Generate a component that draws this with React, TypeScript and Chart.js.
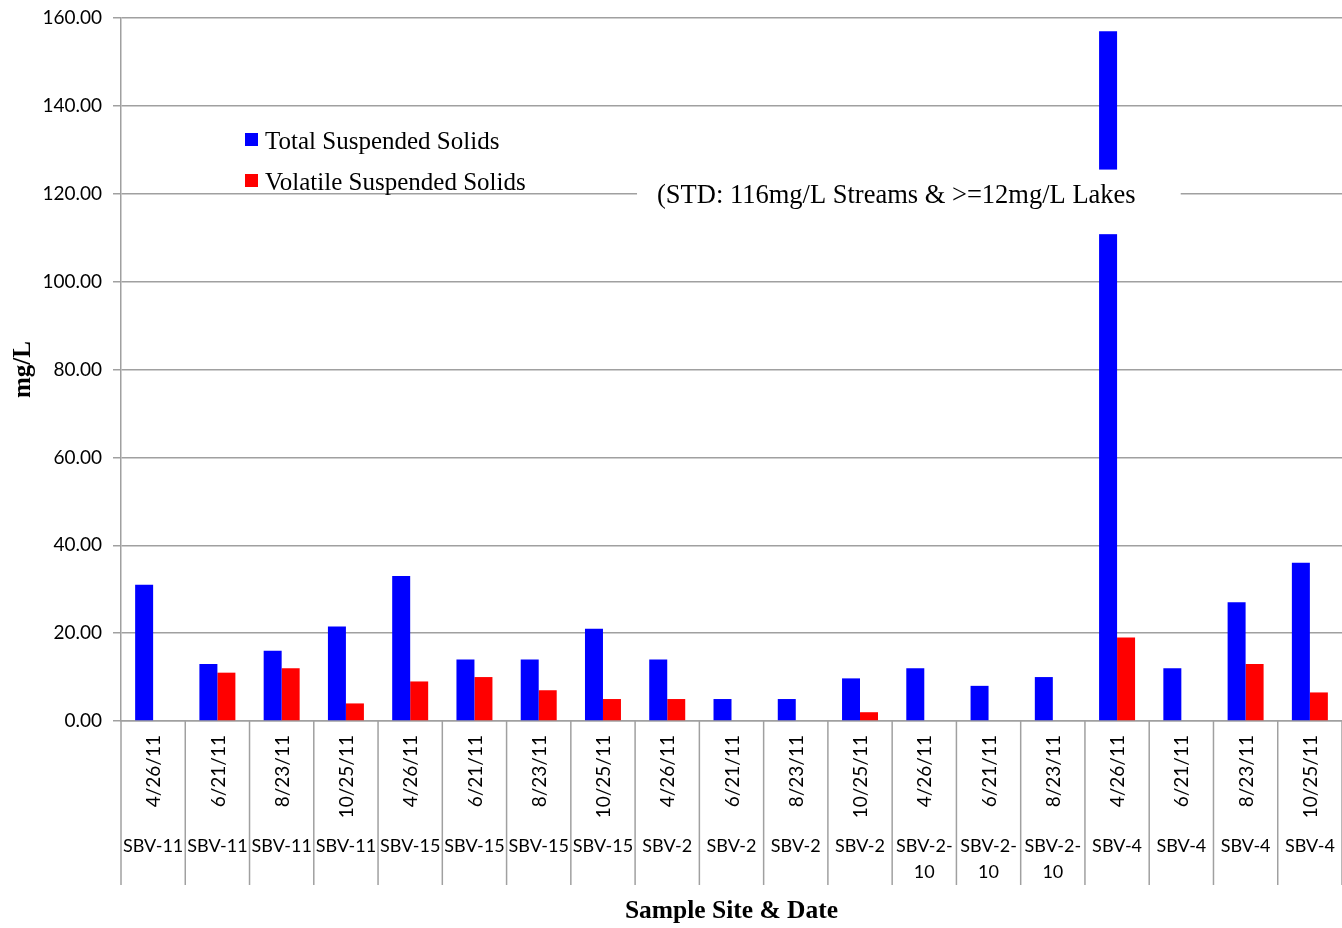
import React, { useEffect, useRef } from "react";
import { Chart, registerables } from "chart.js";

Chart.register(...registerables);

const dates = [
  "4/26/11", "6/21/11", "8/23/11", "10/25/11",
  "4/26/11", "6/21/11", "8/23/11", "10/25/11",
  "4/26/11", "6/21/11", "8/23/11", "10/25/11",
  "4/26/11", "6/21/11", "8/23/11",
  "4/26/11", "6/21/11", "8/23/11", "10/25/11",
];
const sites = [
  "SBV-11", "SBV-11", "SBV-11", "SBV-11",
  "SBV-15", "SBV-15", "SBV-15", "SBV-15",
  "SBV-2", "SBV-2", "SBV-2", "SBV-2",
  "SBV-2-10", "SBV-2-10", "SBV-2-10",
  "SBV-4", "SBV-4", "SBV-4", "SBV-4",
];
const tss = [31, 13, 16, 21.5, 33, 14, 14, 21, 14, 5, 5, 9.7, 12, 8, 10, 157, 12, 27, 36];
const vss = [null, 11, 12, 4, 9, 10, 7, 5, 5, null, null, 2, null, null, null, 19, null, 13, 6.5];
const seriesNames = ["Total Suspended Solids", "Volatile Suspended Solids"];
const seriesColors = ["#0000FF", "#FF0000"];
const stdNote = "(STD: 116mg/L Streams & >=12mg/L Lakes";
const yTitle = "mg/L";
const xTitle = "Sample Site & Date";

const GRID = "#a0a0a0";
const SERIF = "'Liberation Serif', 'Times New Roman', serif";

const overlayPlugin = {
  id: "overlay",
  afterDatasetsDraw(chart: any) {
    const ctx = chart.ctx;
    const y = chart.scales.y;
    const x = chart.scales.x;
    // white text box of the standard note, covering the grid and bar
    const boxTop = y.getPixelForValue(125.5);
    const boxBottom = y.getPixelForValue(110.8);
    const boxLeft = x.getPixelForValue(7.53);
    const boxRight = x.getPixelForValue(15.99);
    ctx.save();
    ctx.fillStyle = "#ffffff";
    ctx.fillRect(boxLeft, boxTop, boxRight - boxLeft, boxBottom - boxTop);
    ctx.fillStyle = "#000";
    ctx.font = `26.5px ${SERIF}`;
    ctx.textAlign = "left";
    ctx.textBaseline = "alphabetic";
    ctx.fillText(stdNote, boxLeft + 20, y.getPixelForValue(120) + 9);
    ctx.restore();
  },
  afterDraw(chart: any) {
    const ctx = chart.ctx;
    const x = chart.scales.x;
    const area = chart.chartArea;
    const n = dates.length;
    const cw = (area.right - area.left) / n;
    ctx.save();
    // separators below axis
    ctx.strokeStyle = GRID;
    ctx.lineWidth = 1.5;
    for (let k = 0; k <= n; k++) {
      const px = area.left + k * cw;
      ctx.beginPath();
      ctx.moveTo(px, area.bottom);
      ctx.lineTo(px, 885);
      ctx.stroke();
    }
    // date labels (rotated)
    ctx.fillStyle = "#000";
    ctx.font = "19px Lato";
    for (let i = 0; i < n; i++) {
      const cx = x.getPixelForValue(i);
      ctx.save();
      ctx.translate(cx + 1, area.bottom + 14);
      ctx.rotate(-Math.PI / 2);
      ctx.textAlign = "right";
      ctx.textBaseline = "middle";
      ctx.fillText(dates[i], 0, 0);
      ctx.restore();
    }
    // site labels
    ctx.font = "18px Lato";
    ctx.textAlign = "center";
    ctx.textBaseline = "middle";
    for (let i = 0; i < n; i++) {
      const cx = x.getPixelForValue(i);
      const s = sites[i];
      let lines = [s];
      if (ctx.measureText(s).width > cw - 2) {
        const idx = s.lastIndexOf("-");
        lines = [s.slice(0, idx + 1), s.slice(idx + 1)];
      }
      lines.forEach((ln, j) => ctx.fillText(ln, cx, 846 + j * 26));
    }
    // axis titles
    ctx.font = `bold 25.5px ${SERIF}`;
    ctx.textAlign = "center";
    ctx.fillText(xTitle, (area.left + area.right) / 2, 911);
    ctx.save();
    ctx.translate(24, (area.top + area.bottom) / 2);
    ctx.rotate(-Math.PI / 2);
    ctx.font = `bold 25px ${SERIF}`;
    ctx.fillText(yTitle, 0, 0);
    ctx.restore();
    // legend
    ctx.font = `25px ${SERIF}`;
    ctx.textAlign = "left";
    ctx.textBaseline = "alphabetic";
    const legendY = [140, 181];
    seriesNames.forEach((nm, j) => {
      ctx.fillStyle = seriesColors[j];
      ctx.fillRect(245, legendY[j] - 7, 13, 13);
      ctx.fillStyle = "#000";
      ctx.fillText(nm, 265, legendY[j] + 9);
    });
    ctx.restore();
  },
};

export default function App() {
  const ref = useRef<HTMLCanvasElement>(null);
  useEffect(() => {
    const chart = new Chart(ref.current as HTMLCanvasElement, {
      type: "bar",
      data: {
        labels: dates.map((d, i) => `${d} ${sites[i]}`),
        datasets: [
          {
            label: seriesNames[0],
            data: tss,
            backgroundColor: seriesColors[0],
            categoryPercentage: 0.56,
            barPercentage: 1.0,
          },
          {
            label: seriesNames[1],
            data: vss as any,
            backgroundColor: seriesColors[1],
            categoryPercentage: 0.56,
            barPercentage: 1.0,
          },
        ],
      },
      options: {
        animation: false,
        responsive: false,
        layout: { padding: { top: 18, right: 0, left: 0, bottom: 0 } },
        plugins: { legend: { display: false }, tooltip: { enabled: false } },
        scales: {
          x: {
            ticks: { display: false },
            grid: { display: false },
            border: { display: true, color: GRID, width: 1.5 },
            afterFit: (s: any) => { s.height = 207; s.paddingLeft = 0; s.paddingRight = 0; },
          },
          y: {
            min: 0,
            max: 160,
            ticks: {
              stepSize: 20,
              color: "#000",
              font: { family: "Lato", size: 19 },
              padding: 11,
              callback: (v: any) => Number(v).toFixed(2),
            },
            grid: { color: GRID, lineWidth: 1.5, tickLength: 8 },
            border: { display: true, color: GRID, width: 1.5 },
            afterFit: (s: any) => { s.width = 121; s.paddingTop = 0; s.paddingBottom = 0; },
          },
        },
      },
      plugins: [overlayPlugin],
    });
    return () => chart.destroy();
  }, []);
  return (
    <div style={{ position: "fixed", left: 0, top: 0, width: 1342, height: 928, background: "#fff" }}>
      <canvas ref={ref} width={1342} height={928} style={{ display: "block" }} />
    </div>
  );
}
